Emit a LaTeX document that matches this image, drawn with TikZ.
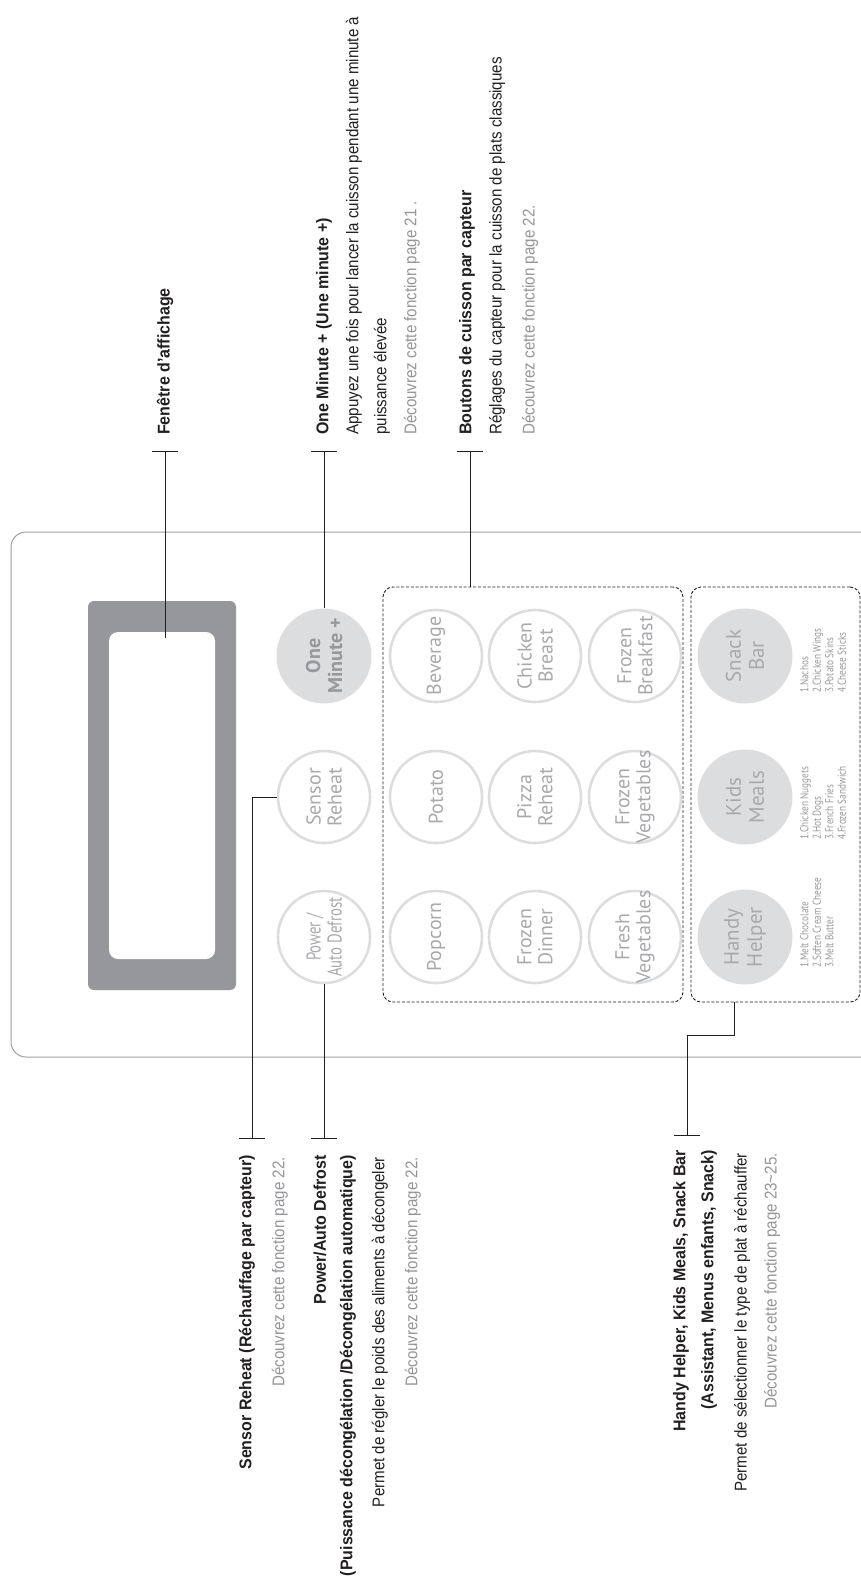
\documentclass[tikz,border=0pt]{standalone}
\usepackage{fontspec}
\setmainfont{Liberation Sans}[FakeStretch=0.89, BoldFeatures={FakeStretch=0.94}]
\newfontfamily\btnfont{PT Sans}
\newfontfamily\narrowfont{PT Sans}[FakeStretch=0.74]
\newfontfamily\listfont{PT Sans}[FakeStretch=0.8]
\usetikzlibrary{arrows.meta}
\definecolor{inkc}{HTML}{231F20}
\definecolor{notegray}{HTML}{939598}
\definecolor{dispgray}{HTML}{96979A}
\definecolor{btnline}{HTML}{DCDDDE}
\definecolor{btntext}{HTML}{A7A9AC}
\definecolor{panelline}{HTML}{9D9FA2}

\begin{document}
\begin{tikzpicture}[x=1pt, y=-1pt,
    leader/.style={line width=1pt, draw=inkc, -{Bar[width=26pt]}},
    grp/.style={draw=inkc, line width=0.9pt, dash pattern=on 3pt off 1.8pt, rounded corners=10pt, inner sep=0},
    btn/.style={circle, draw=btnline, line width=2.6pt, minimum size=92pt, inner sep=0},
    btnon/.style={circle, fill=btnline, minimum size=95pt, inner sep=0},
    btnlbl/.style={rotate=90, align=center, text=btntext, inner sep=0,
        font=\btnfont\fontsize{20}{21}\selectfont},
    listlbl/.style={rotate=90, align=left, text=btntext!90!black, inner sep=0, anchor=north west,
        font=\listfont\fontsize{11.5}{12.5}\selectfont},
    ttl/.style={rotate=90, inner sep=0, text=inkc, font=\fontsize{17}{20}\selectfont\bfseries},
    txt/.style={rotate=90, inner sep=0, text=inkc, font=\fontsize{17}{20}\selectfont},
    note/.style={txt, text=notegray}]
    \useasboundingbox (0,0) rectangle (861,1577);
    \clip (0,0) rectangle (861,1577);

    % Panel
    \draw[panelline, line width=1pt, rounded corners=15pt] (11,532) rectangle (885,1057);

    % Display window
    \node[fill=dispgray, rounded corners=6pt, minimum width=148pt, minimum height=389pt, inner sep=0] (display) at (162,795.5) {};
    \node[fill=white, rounded corners=9pt, minimum width=106pt, minimum height=327pt, inner sep=0] (window) at (162,795.5) {};

    % Groups
    \node[grp, minimum width=300pt, minimum height=415pt] (sensorgrp) at (533,794.5) {};
    \node[grp, minimum width=169pt, minimum height=415pt] (menugrp) at (775.5,794.5) {};

    % Buttons
    \foreach \nm/\x/\y/\lbl in {sensor/324/797/{Sensor\\Reheat},
        bev/436/656/{Beverage}, potato/436/797/{Potato}, popcorn/436/937/{Popcorn},
        chick/535/656/{Chicken\\Breast}, pizza/535/797/{Pizza\\Reheat}, fdinner/535/937/{Frozen\\Dinner},
        fbreak/635/656/{Frozen\\Breakfast}, fveg/635/797/{Frozen\\Vegetables}, freshveg/635/937/{Fresh\\Vegetables}}
    {
        \node[btn] (\nm) at (\x,\y) {};
        \node[btnlbl] (\nm-t) at (\nm) {\lbl};
    }
    \node[btn] (power) at (324,937) {};
    \node[btnlbl, font=\narrowfont\fontsize{20}{21}\selectfont] (power-t) at (power) {Power /\\Auto Defrost};

    \foreach \nm/\y/\lbl in {snack/656/{Snack\\Bar}, kids/797/{Kids\\Meals}, handy/937/{Handy\\Helper}}
    {
        \node[btnon] (\nm) at (745,\y) {};
        \node[btnlbl, font=\btnfont\fontsize{21}{23}\selectfont] (\nm-t) at (\nm) {\lbl};
    }
    \node[btnon] (onemin) at (324,656) {};
    \node[btnlbl, text=btntext!90!black, font=\btnfont\bfseries\fontsize{20}{22}\selectfont] (onemin-t) at (onemin) {One\\Minute +};

    % Menu lists
    \node[listlbl] (snack-l) at (800,693) {1.Nachos\\2.Chicken Wings\\3.Potato Skins\\4.Cheese Sticks};
    \node[listlbl] (kids-l) at (800,840) {1.Chicken Nuggets\\2.Hot Dogs\\3.French Fries\\4.Frozen Sandwich};
    \node[listlbl] (handy-l) at (800,968) {1.Melt Chocolate\\2.Soften Cream Cheese\\3.Melt Butter};

    % Leaders
    \coordinate (fenin) at (165,638);
    \coordinate (fenT) at (165,451);
    \coordinate (oneT) at (324,451);
    \coordinate (boutT) at (470,451);
    \coordinate (sensT) at (252,1139);
    \coordinate (powT) at (324,1139);
    \coordinate (handyknee) at (734,1035);
    \coordinate (handyT) at (687,1136);
    \draw[leader] (fenin) -- (fenT);
    \draw[leader] (onemin.north) -- (oneT);
    \draw[leader] (sensorgrp.north -| boutT) -- (boutT);
    \draw[leader] (sensor.west) -| (sensT);
    \draw[leader] (power.south) -- (powT);
    \draw[leader] (menugrp.south -| handyknee) -- (handyknee) -| (handyT);

    % Texts above
    \node[ttl, anchor=west] (fenlbl) at (165,435) {Fenêtre d’affichage};
    \node[ttl, anchor=west] (onelbl) at (324,435) {One Minute + (Une minute +)};
    \node[txt, anchor=west] (onetxt) at (354,435) {Appuyez une fois pour lancer la cuisson pendant une minute à};
    \node[txt, anchor=west] (onetxt2) at (382,435) {puissance élevée};
    \node[note, anchor=west] (onenote) at (412,435) {Découvrez cette fonction page 21 .};
    \node[ttl, anchor=west] (boutlbl) at (467,435) {Boutons de cuisson par capteur};
    \node[txt, anchor=west] (bouttxt) at (497,435) {Réglages du capteur pour la cuisson de plats classiques};
    \node[note, anchor=west] (boutnote) at (530,435) {Découvrez cette fonction page 22.};

    % Texts below
    \node[ttl, anchor=east] (senslbl) at (247,1155) {Sensor Reheat (Réchauffage par capteur)};
    \node[note, anchor=east] (sensnote) at (280,1157) {Découvrez cette fonction page 22.};
    \node[ttl, anchor=east] (powlbl) at (320,1155) {Power/Auto Defrost};
    \node[ttl, anchor=east] (powlbl2) at (348,1155) {(Puissance décongélation /Décongélation automatique)};
    \node[txt, anchor=east] (powtxt) at (380,1157) {Permet de régler le poids des aliments à décongeler};
    \node[note, anchor=east] (pownote) at (413,1157) {Découvrez cette fonction page 22.};
    \node[ttl, anchor=east] (handylbl) at (681,1150) {Handy Helper, Kids Meals, Snack Bar};
    \node[ttl, anchor=east] (handylbl2) at (709,1150) {(Assistant, Menus enfants, Snack)};
    \node[txt, anchor=east] (handytxt) at (742,1153) {Permet de sélectionner le type de plat à réchauffer};
    \node[note, anchor=east] (handynote) at (772,1153) {Découvrez cette fonction page 23\textasciitilde 25.};
\end{tikzpicture}
\end{document}
